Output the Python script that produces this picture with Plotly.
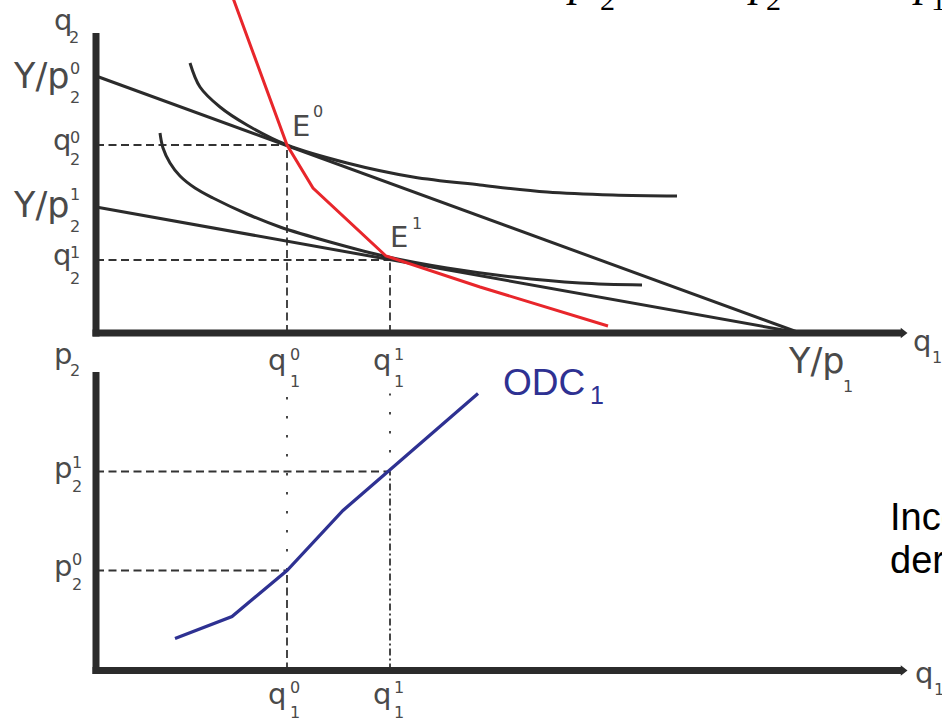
import plotly.graph_objects as go

# ---------------- values (q1 horizontal; q2 top vertical; p2 bottom vertical) ----------------
Q1_0, Q1_1 = 19.1, 29.4          # q1 at E0 and E1
Q2_0, Q2_1 = 18.8, 7.3           # q2 at E0 and E1
Y_P2_0, Y_P2_1 = 25.7, 12.6      # budget-line intercepts on the q2 axis
Y_P1 = 70.4                      # common intercept on the q1 axis
P2_0, P2_1 = 10.0, 19.9          # prices of good 2

# indifference curve through E0
IC0_Q1 = [9.4, 10.4, 12.4, 15.1, 19.1, 25.1, 31.7, 38.4, 45.1, 51.7, 58.1]
IC0_Q2 = [27.0, 24.6, 22.6, 20.8, 18.8, 17.0, 15.6, 14.8, 14.1, 13.8, 13.7]
# indifference curve through E1
IC1_Q1 = [6.4, 6.7, 7.4, 8.4, 9.9, 11.7, 15.1, 18.4, 23.4, 29.2, 35.1, 41.7, 48.4, 54.6]
IC1_Q2 = [20.0, 18.5, 17.0, 15.7, 14.5, 13.5, 11.9, 10.6, 9.1, 7.6, 6.5, 5.6, 5.0, 4.8]

# price-consumption curve
PCC_Q1 = [13.7, 19.1, 21.7, 29.0, 38.4, 51.2]
PCC_Q2 = [33.5, 18.8, 14.5, 7.7, 4.6, 0.7]

# ordinary demand curve
ODC_Q1 = [7.9, 13.6, 19.1, 24.7, 29.2, 38.2]
ODC_P2 = [3.2, 5.4, 10.0, 16.0, 19.9, 27.7]

# axis extents
AX_Q1_END = 80.6
AX_Q2_TOP = 30.0
AX_P2_TOP = 29.85
DOT_TOP = 27.7

DARK = "#2b2b2b"
GREY = "#4a4a4a"
RED_LINE = "#e8262b"
RED_TEXT = "#f21c1c"
NAVY = "#2e3192"
SANS = "DejaVu Sans"
ARIAL = "Liberation Sans"
SERIF = "Liberation Serif"

fig = go.Figure()


def line(x, y, color, width, yaxis="y", dash=None, shape="linear"):
    fig.add_trace(go.Scatter(
        x=x, y=y, yaxis=yaxis, mode="lines",
        line=dict(color=color, width=width, dash=dash, shape=shape, smoothing=1.0),
        hoverinfo="skip", showlegend=False))


DASH = "8px,4.5px"
DOTS = "2.5px,16.5px"

# ---------------- top panel: budget lines, indifference curves, PCC ----------------
line([0, Q1_0], [Q2_0, Q2_0], "#333333", 1.8, dash=DASH)
line([0, Q1_1], [Q2_1, Q2_1], "#333333", 1.8, dash=DASH)
line([Q1_0, Q1_0], [0, Q2_0], "#333333", 1.8, dash=DASH)
line([Q1_1, Q1_1], [0, Q2_1], "#333333", 1.8, dash=DASH)

line([0, Y_P1], [Y_P2_0, 0], DARK, 3)
line([0, Y_P1], [Y_P2_1, 0], DARK, 3)
line(IC0_Q1, IC0_Q2, DARK, 3, shape="spline")
line(IC1_Q1, IC1_Q2, DARK, 3, shape="spline")
line(PCC_Q1, PCC_Q2, RED_LINE, 3)

# top axes
line([0, 0], [-0.35, AX_Q2_TOP], DARK, 7)
line([-0.35, AX_Q1_END], [0, 0], DARK, 7)
fig.add_trace(go.Scatter(x=[AX_Q1_END + 0.1], y=[0], mode="markers",
                         marker=dict(symbol="triangle-right", size=9, color=DARK),
                         hoverinfo="skip", showlegend=False))

# ---------------- bottom panel: demand curve ----------------
line([0, Q1_0], [P2_0, P2_0], "#333333", 1.8, yaxis="y2", dash=DASH)
line([0, Q1_1], [P2_1, P2_1], "#333333", 1.8, yaxis="y2", dash=DASH)
line([Q1_0, Q1_0], [P2_0, DOT_TOP], "#333333", 1.8, yaxis="y2", dash=DOTS)
line([Q1_1, Q1_1], [P2_1, DOT_TOP], "#333333", 1.8, yaxis="y2", dash=DOTS)
line([Q1_0, Q1_0], [0, P2_0], "#333333", 1.8, yaxis="y2", dash=DASH)
line([Q1_1, Q1_1], [0, P2_1], "#333333", 1.8, yaxis="y2", dash="7px,3px,2px,3px")

line(ODC_Q1, ODC_P2, NAVY, 3.2, yaxis="y2")

line([0, 0], [-0.35, AX_P2_TOP], DARK, 7, yaxis="y2")
line([-0.35, AX_Q1_END], [0, 0], DARK, 7, yaxis="y2")
fig.add_trace(go.Scatter(x=[AX_Q1_END + 0.1], y=[0], yaxis="y2", mode="markers",
                         marker=dict(symbol="triangle-right", size=9, color=DARK),
                         hoverinfo="skip", showlegend=False))


# ---------------- labels ----------------
def label(text, x, y, dx, base_dy, size, anchor="left", yref="y", xref="x",
          color=GREY, family=SANS, k=0.346):
    """Place text so its baseline sits base_dy px below (x, y) and dx px across."""
    fig.add_annotation(x=x, y=y, xref=xref, yref=yref, text=text, showarrow=False,
                       xanchor=anchor, yanchor="middle", xshift=dx,
                       yshift=-(base_dy - k * size), borderpad=0, borderwidth=0,
                       font=dict(size=size, color=color, family=family))


def stacked(base, sup, sub, x, y, dx_base, dx_idx, base_dy, sup_dy, sub_dy,
            size, idx_size=16, yref="y", anchor="right"):
    label(base, x, y, dx_base, base_dy, size, anchor=anchor, yref=yref)
    if sup:
        label(sup, x, y, dx_idx, sup_dy, idx_size, yref=yref)
    if sub:
        label(sub, x, y, dx_idx, sub_dy, idx_size, yref=yref)


# top panel, vertical axis
stacked("q", None, "2", 0, AX_Q2_TOP, -24, -27, -3, 0, 10, 29)
stacked("Y/p", "0", "2", 0, Y_P2_0, -27, -26, 12, -2, 27, 35)
stacked("q", "0", "2", 0, Q2_0, -25, -26, 5.4, -2, 20, 29)
stacked("Y/p", "1", "2", 0, Y_P2_1, -27, -26, 10, -7, 25, 35)
stacked("q", "1", "2", 0, Q2_1, -25, -26, 5.5, -2, 24.5, 29)

# top panel, horizontal axis
stacked("q", "0", "1", Q1_0, 0, -1, 3, 37, 27, 54, 29)
stacked("q", "1", "1", Q1_1, 0, 1, 4, 37, 27, 54, 29)
stacked("Y/p", None, "1", Y_P1, 0, 44, 43, 40, 0, 59, 35)
stacked("q", None, "1", AX_Q1_END, 0, 11, 30, 18.5, 0, 30, 29, anchor="left")

# equilibrium points
label("E", Q1_0, Q2_0, 5, -9, 29)
label("0", Q1_0, Q2_0, 26, -28, 16)
label("E", Q1_1, Q2_1, 0, -12.5, 29)
label("1", Q1_1, Q2_1, 22, -30.5, 16)

# curve names
label("PCC", PCC_Q1[0], PCC_Q2[0], 50, 37, 39, color=RED_TEXT, family=ARIAL, k=0.3465)
label("2", PCC_Q1[0], PCC_Q2[0], 137, 44, 25, color=RED_TEXT, family=ARIAL, k=0.3465)
label("ODC", ODC_Q1[-1], ODC_P2[-1], 25, 2, 37, yref="y2", color=NAVY, family=ARIAL, k=0.3465)
label("1", ODC_Q1[-1], ODC_P2[-1], 112, 10, 25, yref="y2", color=NAVY, family=ARIAL, k=0.3465)

# bottom panel, vertical axis
stacked("p", None, "2", 0, AX_P2_TOP, -24, -26, -8, 0, 4, 29, yref="y2")
stacked("p", "1", "2", 0, P2_1, -24, -24, 7, -3.5, 20.5, 29, yref="y2")
stacked("p", "0", "2", 0, P2_0, -24, -24, 6, -5.5, 19.5, 29, yref="y2")

# bottom panel, horizontal axis
stacked("q", "0", "1", Q1_0, 0, -1, 3, 34, 22.5, 47.5, 29, yref="y2")
stacked("q", "1", "1", Q1_1, 0, 1, 4, 34, 22.5, 47.5, 29, yref="y2")
stacked("q", None, "1", AX_Q1_END, 0, 13, 32, 12.7, 0, 24.5, 29, yref="y2", anchor="left")

# ---------------- side text running off the page ----------------
W, H = 942, 722


def page_text(text, px, baseline, size, family, color="#000000", k=0.3465):
    fig.add_annotation(x=px / W, y=1 - (baseline - k * size) / H, xref="paper", yref="paper",
                       text=text, showarrow=False, xanchor="left", yanchor="middle",
                       borderpad=0, borderwidth=0,
                       font=dict(size=size, color=color, family=family))


page_text("Income effect and", 890, 530, 38, ARIAL)
page_text("derived demand", 890, 573, 38, ARIAL)

for px_p, px_d, digit in [(566, 600, "2"), (747, 766, "2"), (912, 931, "1")]:
    page_text("<i>p</i>", px_p, -5, 46, SERIF, k=0.3375)
    page_text(digit, px_d, 10, 30, SERIF, k=0.3375)

fig.update_layout(
    width=W, height=H,
    margin=dict(l=0, r=0, t=0, b=0),
    paper_bgcolor="white", plot_bgcolor="white",
    showlegend=False, hovermode=False,
    xaxis=dict(range=[-9.6, 84.6], domain=[0, 1], visible=False, fixedrange=True),
    yaxis=dict(range=[-38.9, 33.3], domain=[0, 1], visible=False, fixedrange=True),
    yaxis2=dict(range=[-5.15, 67.05], domain=[0, 1], overlaying="y", visible=False,
                fixedrange=True),
)

fig.write_html("out.html")
